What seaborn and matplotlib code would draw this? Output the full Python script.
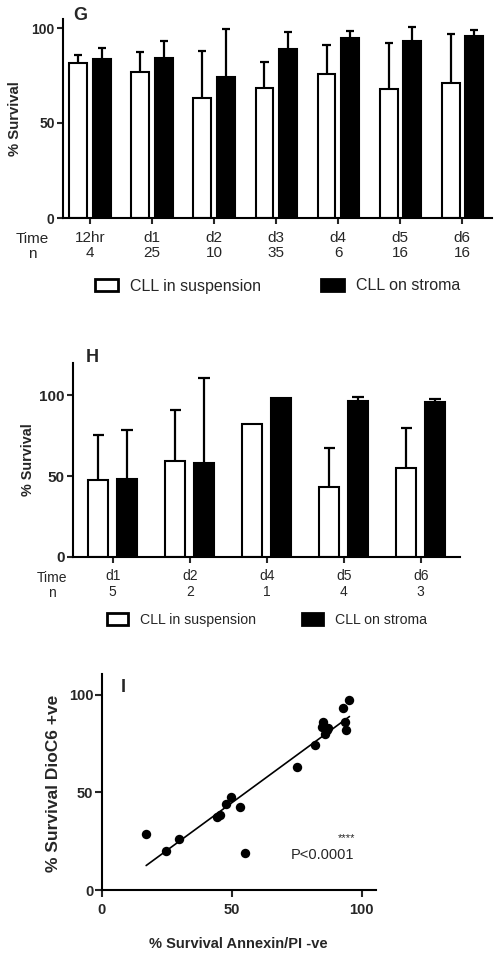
import numpy as np
import pandas as pd
import matplotlib
matplotlib.use("Agg")
import matplotlib.pyplot as plt
import seaborn as sns
from matplotlib.patches import Patch

# ---------------- data ----------------
series = ["CLL in suspension", "CLL on stroma"]

g_times = ["12hr", "d1", "d2", "d3", "d4", "d5", "d6"]
g_n = [4, 25, 10, 35, 6, 16, 16]
g_susp_mean = [81.4, 76.8, 63.3, 68.4, 76.0, 67.9, 70.9]
g_susp_err = [4.4, 10.7, 24.6, 13.9, 15.0, 24.1, 25.9]
g_strom_mean = [83.5, 84.4, 74.0, 88.8, 95.0, 93.2, 95.8]
g_strom_err = [6.0, 8.6, 25.3, 9.2, 3.2, 7.5, 3.0]

h_times = ["d1", "d2", "d4", "d5", "d6"]
h_n = [5, 2, 1, 4, 3]
h_susp_mean = [47.7, 59.5, 82.4, 43.0, 55.0]
h_susp_err = [27.5, 31.0, np.nan, 24.2, 24.8]
h_strom_mean = [48.2, 58.1, 98.0, 96.3, 95.5]
h_strom_err = [30.3, 52.7, np.nan, 2.3, 1.8]

annexin_pi_neg = [17.1, 24.7, 29.9, 44.2, 45.5, 47.7, 49.7, 53.3, 55.0, 75.3,
                  82.0, 85.2, 84.6, 86.5, 86.0, 87.2, 93.0, 93.6, 94.0, 95.3]
dioc6_pos = [28.5, 20.2, 26.2, 37.6, 38.5, 44.3, 47.9, 42.7, 19.1, 63.1,
             74.4, 86.3, 83.7, 82.1, 80.0, 82.9, 93.2, 86.0, 81.8, 97.4]

# ---------------- style ----------------
sns.set_style("ticks")
plt.rcParams["font.family"] = ["Liberation Sans", "DejaVu Sans"]

W, H = 499, 958
fig = plt.figure(figsize=(W / 100, H / 100), dpi=100)


def fbox(left, top, right, bottom):
    return [left / W, 1 - bottom / H, (right - left) / W, (bottom - top) / H]


def bar_panel(ax, times, ns, sm, se, tm, te, gap, ylim, xlim, xfs, yfs,
              capw, labfs):
    df = pd.DataFrame({
        "time": times * 2,
        "survival": list(sm) + list(tm),
        "group": [series[0]] * len(times) + [series[1]] * len(times),
    })
    sns.barplot(data=df, x="time", y="survival", hue="group", order=times,
                hue_order=series,
                palette={series[0]: "white", series[1]: "black"},
                edgecolor="black", linewidth=1.5, width=0.75, gap=gap,
                errorbar=None, legend=False, ax=ax)
    for k, (means, errs) in enumerate([(sm, se), (tm, te)]):
        cont = ax.containers[k]
        for bar, m, e in zip(cont, means, errs):
            if np.isnan(e):
                continue
            xc = bar.get_x() + bar.get_width() / 2
            ax.vlines(xc, m, m + e, color="black", lw=1.6, zorder=1)
            ax.hlines(m + e, xc - capw, xc + capw, color="black", lw=1.6,
                      zorder=1)
    ax.set_xlim(*xlim)
    ax.set_ylim(*ylim)
    ax.set_yticks([0, 50, 100])
    ax.set_xticks(range(len(times)),
                  [f"{t}\n{n}" for t, n in zip(times, ns)])
    for lab in ax.get_xticklabels():
        lab.set_linespacing(1.1)
    ax.tick_params(axis="x", length=4, width=1.5, pad=5, labelsize=xfs)
    ax.tick_params(axis="y", length=4, width=1.5, pad=2, labelsize=yfs)
    for lab in ax.get_yticklabels():
        lab.set_fontweight("bold")
    ax.set_xlabel("")
    ax.set_ylabel("% Survival", fontsize=labfs, fontweight="bold")
    sns.despine(ax=ax)
    for s in ("left", "bottom"):
        ax.spines[s].set_linewidth(1.5)
        ax.spines[s].set_color("black")


# ---------------- panel G ----------------
axG = fig.add_axes(fbox(63, 18.5, 492, 218))
bar_panel(axG, g_times, g_n, g_susp_mean, g_susp_err, g_strom_mean,
          g_strom_err, gap=0.23, ylim=(0, 105), xlim=(-0.435, 6.48),
          xfs=11, yfs=10, capw=0.065, labfs=10.7)
axG.yaxis.set_label_coords(-0.096, 0.5)
fig.text(32 / W, 1 - 232 / H, "Time\nn", ha="center", va="top",
         fontsize=11, linespacing=1.1)
fig.text(80 / W, 1 - 15 / H, "G", ha="center", va="center", fontsize=13,
         fontweight="bold")
handles = [Patch(facecolor="white", edgecolor="black", linewidth=2),
           Patch(facecolor="black", edgecolor="black", linewidth=2)]
fig.legend(handles, series, loc="center left",
           bbox_to_anchor=(95 / W, 1 - 286 / H), ncol=2, frameon=False,
           fontsize=11.5, handlelength=1.45, handleheight=0.75,
           handletextpad=0.75, columnspacing=3.75, borderpad=0,
           borderaxespad=0)

# ---------------- panel H ----------------
axH = fig.add_axes(fbox(73, 362.7, 460, 557))
bar_panel(axH, h_times, h_n, h_susp_mean, h_susp_err, h_strom_mean,
          h_strom_err, gap=0.31, ylim=(0, 120), xlim=(-0.516, 4.51),
          xfs=10, yfs=11, capw=0.075, labfs=10.4)
axH.yaxis.set_label_coords(-0.098, 0.5)
fig.text(52 / W, 1 - 571 / H, "Time\nn", ha="center", va="top",
         fontsize=10, linespacing=1.1)
fig.text(92 / W, 1 - 358 / H, "H", ha="center", va="center", fontsize=13,
         fontweight="bold")
fig.legend(handles, series, loc="center left",
           bbox_to_anchor=(107 / W, 1 - 620 / H), ncol=2, frameon=False,
           fontsize=10.2, handlelength=1.5, handleheight=0.84,
           handletextpad=0.85, columnspacing=3.2, borderpad=0,
           borderaxespad=0)

# ---------------- panel I ----------------
axI = fig.add_axes(fbox(101.7, 674.3, 375.7, 890))
sns.regplot(x=annexin_pi_neg, y=dioc6_pos, ci=None, ax=axI,
            scatter_kws={"s": 46, "color": "black", "linewidths": 0,
                         "alpha": 1},
            line_kws={"color": "black", "lw": 1.2})
axI.set_xlim(0, 105.4)
axI.set_ylim(0, 110.6)
axI.set_xticks([0, 50, 100])
axI.set_yticks([0, 50, 100])
axI.tick_params(axis="both", length=5, width=1.5, labelsize=10.5)
axI.tick_params(axis="x", pad=4)
axI.tick_params(axis="y", pad=1)
for lab in axI.get_xticklabels() + axI.get_yticklabels():
    lab.set_fontweight("bold")
sns.despine(ax=axI)
for s in ("left", "bottom"):
    axI.spines[s].set_linewidth(1.5)
    axI.spines[s].set_color("black")
axI.set_xlabel("% Survival Annexin/PI -ve", fontsize=10.5, fontweight="bold")
axI.xaxis.set_label_coords(0.497, -0.22)
axI.set_ylabel("% Survival DioC6 +ve", fontsize=12.5, fontweight="bold")
axI.yaxis.set_label_coords(-0.15, 0.496)
fig.text(123 / W, 1 - 688 / H, "I", ha="center", va="center", fontsize=13,
         fontweight="bold")
fig.text(346.7 / W, 1 - 838 / H, "****", ha="center", va="center",
         fontsize=8)
fig.text(290.7 / W, 1 - 855 / H, "P<0.0001", ha="left", va="center",
         fontsize=10.5)

fig.savefig("out.png", dpi=100)
